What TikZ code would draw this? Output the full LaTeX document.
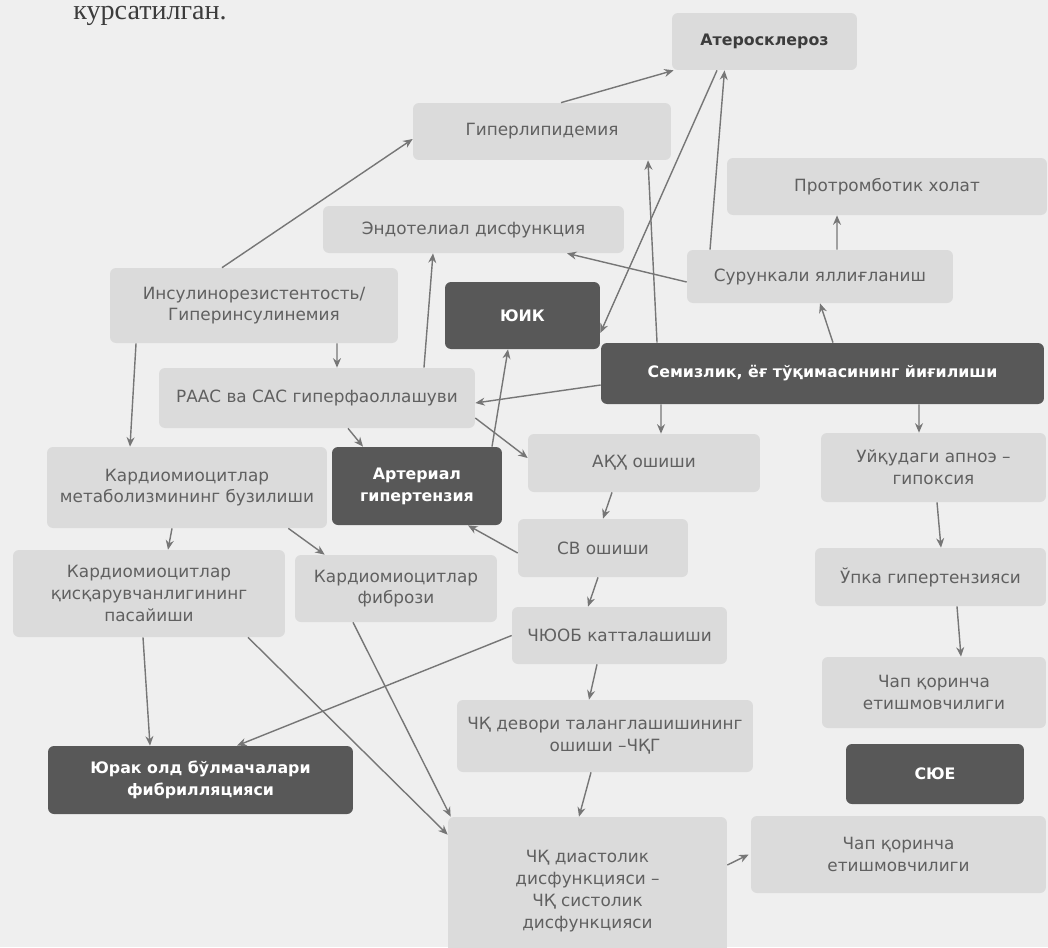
\documentclass[tikz,border=0pt]{standalone}
\usepackage{fontspec}
\setmainfont{DejaVu Sans}
\newfontfamily\pageserif{Liberation Serif}
\usetikzlibrary{arrows.meta}
\definecolor{pageC}{HTML}{EFEFEF}
\definecolor{liteF}{HTML}{DBDBDB}
\definecolor{liteT}{HTML}{606060}
\definecolor{darkF}{HTML}{585858}
\definecolor{arrC}{HTML}{767676}
\definecolor{headT}{HTML}{3C3C3C}
\tikzset{
  box/.style={rounded corners=3.4pt, align=center, inner sep=2pt, font=\fontsize{9.6}{12.4}\selectfont},
  lite/.style={box, fill=liteF, text=liteT},
  head/.style={lite, text=headT, font=\fontsize{9.0}{12.4}\selectfont\bfseries},
  dark/.style={box, fill=darkF, text=white, font=\fontsize{9.0}{12.4}\selectfont\bfseries},
  sz/.style 2 args={minimum width=#1cm, minimum height=#2cm},
  arr/.style={-{Stealth[length=1.9mm,width=1.6mm]}, draw=arrC, line width=0.8pt},
}

\begin{document}
\begin{tikzpicture}[x=0.02cm, y=-0.02cm]
\useasboundingbox (0,0) rectangle (1048,947);
\clip (0,0) rectangle (1048,947);
\fill[pageC] (0,0) rectangle (1048,947);
\node[font=\pageserif\fontsize{16}{18}\selectfont, text=headT, anchor=base west, inner sep=0pt] (caption) at (73,19) {курсатилган.};
% top row
\node[head, sz={3.70}{1.14}] (ather) at (764.5,41.5) {Атеросклероз};
\node[lite, sz={5.16}{1.14}] (hyperlip) at (542,131.5) {Гиперлипидемия};
\node[lite, sz={6.40}{1.14}] (protromb) at (887,186.5) {Протромботик холат};
\node[lite, sz={6.02}{0.94}] (endo) at (473.5,229.5) {Эндотелиал дисфункция};
\node[lite, sz={5.32}{1.06}] (chronic) at (820,276.5) {Сурункали яллиғланиш};
\node[lite, sz={5.76}{1.50}] (insulin) at (254,305.5) {Инсулинорезистентость/\\Гиперинсулинемия};
\node[dark, sz={3.10}{1.34}] (yuik) at (522.5,315.5) {ЮИК};
\node[lite, sz={6.32}{1.20}] (raas) at (317,398) {РААС ва САС гиперфаоллашуви};
\node[dark, sz={8.86}{1.22}] (obesity) at (822.5,373.5) {Семизлик, ёғ тўқимасининг йиғилиши};
% middle
\node[lite, sz={5.60}{1.62}] (metab) at (187,487.5) {Кардиомиоцитлар\\метаболизмининг бузилиши};
\node[dark, sz={3.40}{1.56}] (ah) at (417,486) {Артериал\\гипертензия};
\node[lite, sz={4.64}{1.16}] (akh) at (644,463) {АҚҲ ошиши};
\node[lite, sz={4.50}{1.38}] (apnea) at (933.5,467.5) {Уйқудаги апноэ –\\гипоксия};
\node[lite, sz={3.40}{1.16}] (cv) at (603,548) {СВ ошиши};
\node[lite, sz={4.62}{1.16}] (pulm) at (930.5,577) {Ўпка гипертензияси};
\node[lite, sz={5.44}{1.74}] (contr) at (149,593.5) {Кардиомиоцитлар\\қисқарувчанлигининг\\пасайиши};
\node[lite, sz={4.04}{1.34}] (fibr) at (396,588.5) {Кардиомиоцитлар\\фибрози};
\node[lite, sz={4.30}{1.14}] (chyuob) at (619.5,635.5) {ЧЮОБ катталашиши};
\node[lite, sz={4.48}{1.42}] (lvf1) at (934,692.5) {Чап қоринча\\етишмовчилиги};
\node[lite, sz={5.92}{1.44}] (wall) at (605,736) {ЧҚ девори таланглашишининг\\ошиши –ЧҚГ};
% bottom
\node[dark, sz={3.56}{1.20}] (syue) at (935,774) {СЮЕ};
\node[dark, sz={6.10}{1.36}] (af) at (200.5,780) {Юрак олд бўлмачалари\\фибрилляцияси};
\node[lite, sz={5.58}{2.96}] (diast) at (587.5,891) {ЧҚ диастолик\\дисфункцияси –\\ЧҚ систолик\\дисфункцияси};
\node[lite, sz={5.90}{1.54}] (lvf2) at (898.5,854.5) {Чап қоринча\\етишмовчилиги};
% connectors
\draw[arr] ([xshift=-0.64cm]insulin.north) -- ([yshift=-0.15cm]hyperlip.west);
\draw[arr] ([xshift=0.38cm]hyperlip.north) -- ([xshift=0.04cm]ather.south west);
\draw[arr] ([xshift=-0.95cm]ather.south) -- ([yshift=-0.35cm]yuik.east);
\draw[arr] ([xshift=-2.2cm]chronic.north) -- ([xshift=-0.8cm]ather.south);
\draw[arr] ([xshift=-3.31cm]obesity.north) -- ([xshift=2.12cm]hyperlip.south);
\draw[arr] ([yshift=-0.11cm]chronic.west) -- ([xshift=1.87cm]endo.south);
\draw[arr] ([xshift=0.34cm]chronic.north) -- ([xshift=-1.0cm]protromb.south);
\draw[arr] ([xshift=0.21cm]obesity.north) -- (chronic.south);
\draw[arr] ([xshift=2.14cm]raas.north) -- ([xshift=-0.81cm]endo.south);
\draw[arr] ([xshift=1.66cm]insulin.south) -- ([xshift=0.4cm]raas.north);
\draw[arr] ([xshift=-2.36cm]insulin.south) -- ([xshift=-1.14cm]metab.north);
\draw[arr] ([yshift=-0.23cm]obesity.west) -- ([yshift=-0.1cm]raas.east);
\draw[arr] ([xshift=0.62cm]raas.south) -- ([xshift=-1.08cm]ah.north);
\draw[arr] ([yshift=-0.4cm]raas.east) -- ([yshift=0.1cm]akh.west);
\draw[arr] ([xshift=1.5cm]ah.north) -- ([xshift=-0.29cm]yuik.south);
\draw[arr] ([xshift=-3.23cm]obesity.south) -- ([xshift=0.34cm]akh.north);
\draw[arr] ([xshift=1.93cm]obesity.south) -- ([xshift=-0.29cm]apnea.north);
\draw[arr] ([xshift=-0.64cm]akh.south) -- (cv.north);
\draw[arr] ([yshift=-0.1cm]cv.west) -- ([xshift=1.02cm]ah.south);
\draw[arr] ([xshift=-0.1cm]cv.south) -- ([xshift=-0.63cm]chyuob.north);
\draw[arr] ([xshift=-0.45cm]chyuob.south) -- ([xshift=-0.32cm]wall.north);
\draw[arr] ([xshift=-0.28cm]wall.south) -- ([xshift=-0.17cm]diast.north);
\draw[arr] (chyuob.west) -- ([xshift=0.73cm]af.north);
\draw[arr] ([xshift=-0.12cm]contr.south) -- ([xshift=-1.01cm]af.north);
\draw[arr] ([xshift=1.98cm]contr.south) -- ([yshift=-0.36cm]diast.north west);
\draw[arr] ([xshift=-0.86cm]fibr.south) -- ([xshift=0.06cm]diast.north west);
\draw[arr] ([xshift=-0.3cm]metab.south) -- ([xshift=0.38cm]contr.north);
\draw[arr] ([xshift=-0.78cm]metab.south east) -- ([xshift=0.6cm]fibr.north west);
\draw[arr] ([xshift=0.07cm]apnea.south) -- ([xshift=0.21cm]pulm.north);
\draw[arr] ([xshift=0.53cm]pulm.south) -- ([xshift=0.54cm]lvf1.north);
\draw[arr] ([yshift=0.52cm]diast.east) -- ([xshift=-0.04cm]lvf2.west);
\end{tikzpicture}
\end{document}
